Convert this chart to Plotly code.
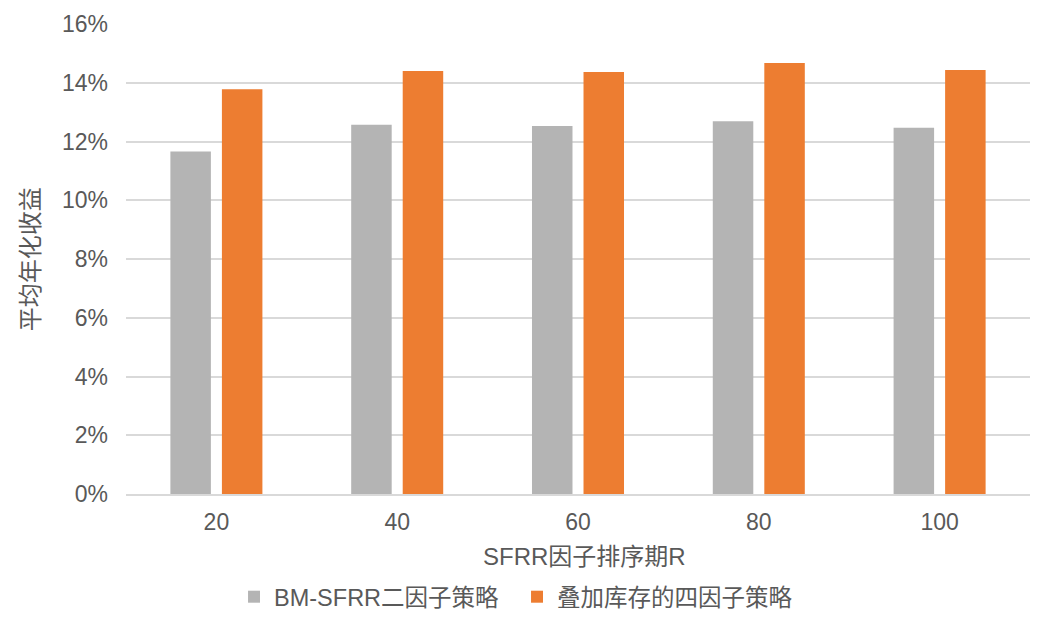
import plotly.graph_objects as go

categories = ["20", "40", "60", "80", "100"]
bm_sfrr = [0.1166, 0.1257, 0.1253, 0.1269, 0.1247]
four_factor = [0.1378, 0.1440, 0.1437, 0.1467, 0.1443]
series_names = ["BM-SFRR二因子策略", "叠加库存的四因子策略"]
y_ticks = [0, 0.02, 0.04, 0.06, 0.08, 0.10, 0.12, 0.14, 0.16]
x_title = "SFRR因子排序期R"
y_title = "平均年化收益"

FONT = "Liberation Sans, Arial, Noto Sans CJK SC, sans-serif"
TXT = "#595959"

fig = go.Figure()
fig.add_trace(go.Bar(x=categories, y=bm_sfrr, name=series_names[0],
                     marker=dict(color="#B4B4B4", line=dict(width=0))))
fig.add_trace(go.Bar(x=categories, y=four_factor, name=series_names[1],
                     marker=dict(color="#ED7D31", line=dict(width=0))))

fig.update_layout(
    width=1036, height=613,
    margin=dict(l=118, r=14, t=16, b=127, autoexpand=False),
    paper_bgcolor="white", plot_bgcolor="white",
    font=dict(family=FONT, size=23, color=TXT),
    barmode="group", bargap=0.43, bargroupgap=0.214,
    showlegend=True,
    legend=dict(orientation="h", x=0.1195, xanchor="left", y=-0.219, yanchor="middle",
                font=dict(size=23.5, color=TXT), itemwidth=30, entrywidth=238,
                entrywidthmode="pixels", traceorder="normal"),
    xaxis=dict(type="category", showgrid=False, showline=True, linecolor="#D9D9D9",
               linewidth=1.5, ticks="", tickfont=dict(size=23, color=TXT),
               ticklabelstandoff=7, automargin=False),
    yaxis=dict(range=[0, 0.16], tickvals=y_ticks, tickformat=".0%",
               showgrid=True, gridcolor="#D9D9D9", gridwidth=1.5, zeroline=False,
               showline=False, ticks="", tickfont=dict(size=23, color=TXT),
               ticklabelstandoff=17, automargin=False),
    annotations=[
        dict(text=x_title, xref="paper", yref="paper", x=0.507, y=-0.134,
             xanchor="center", yanchor="middle", showarrow=False,
             font=dict(size=24, color=TXT)),
        dict(text=y_title, xref="paper", yref="paper", x=-0.106, y=0.5,
             xanchor="center", yanchor="middle", showarrow=False, textangle=-90,
             font=dict(size=24, color=TXT)),
    ],
)

fig.write_html("out.html")
